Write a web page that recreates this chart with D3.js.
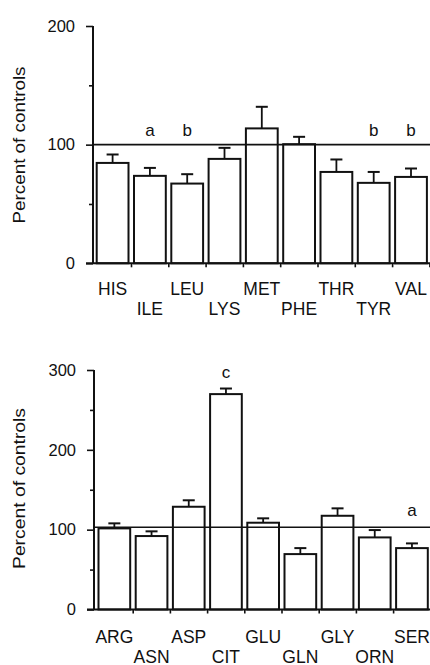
<!DOCTYPE html>
<html>
<head>
<meta charset="utf-8">
<script src="https://cdn.jsdelivr.net/npm/d3@7"></script>
<style>
  html, body { margin: 0; padding: 0; background: #fff; }
  svg { display: block; }
  text { font-family: "Liberation Sans", Arial, Helvetica, sans-serif; fill: #111; }
</style>
</head>
<body>
<svg id="chart" width="430" height="665"></svg>
<script>
// Essential amino acids (upper panel)
const essentialNames = ["HIS", "ILE", "LEU", "LYS", "MET", "PHE", "THR", "TYR", "VAL"];
const essentialMeans = [84.6, 73.7, 67.2, 88.0, 113.7, 100.4, 77.0, 67.8, 72.8];
const essentialSem   = [7.1, 6.7, 7.9, 9.3, 18.2, 6.2, 10.5, 9.2, 7.1];
const essentialSig   = ["", "a", "b", "", "", "", "", "b", "b"];
const essentialTicks = [0, 100, 200];
const essentialMinor = [50, 150];
const essentialRef   = 100;

// Non-essential amino acids (lower panel)
const otherNames = ["ARG", "ASN", "ASP", "CIT", "GLU", "GLN", "GLY", "ORN", "SER"];
const otherMeans = [101.6, 92.0, 128.7, 269.8, 108.7, 69.4, 117.4, 90.3, 76.9];
const otherSem   = [6.3, 5.9, 8.1, 7.0, 5.5, 7.5, 9.3, 9.2, 5.9];
const otherSig   = ["", "", "", "c", "", "", "", "", "a"];
const otherTicks = [0, 100, 200, 300];
const otherMinor = [50, 150, 250];
const otherRef   = 103;

const yTitle = "Percent of controls";
const ink = "#111";

const svg = d3.select("#chart");

function panel(cfg) {
  const g = svg.append("g");
  const yMax = d3.max(cfg.ticks);
  const y = d3.scaleLinear().domain([0, yMax]).range([cfg.y0, cfg.yTop]);
  const x = d3.scaleBand().domain(cfg.names).range([cfg.xStart, cfg.xEnd]).paddingInner(0).paddingOuter(0);
  const xi = d3.scaleLinear().domain([0, cfg.names.length]).range([cfg.xStart, cfg.xEnd]);

  const rows = cfg.names.map((n, i) => ({
    name: n, mean: cfg.means[i], sem: cfg.sem[i], sig: cfg.sig[i], i
  }));

  // bars
  const inset = 3, barW = x.bandwidth() - 5.5;
  g.selectAll("rect.bar").data(rows).join("rect")
    .attr("class", "bar")
    .attr("x", d => x(d.name) + inset)
    .attr("width", barW)
    .attr("y", d => y(d.mean))
    .attr("height", d => y(0) - y(d.mean))
    .attr("fill", "#fff")
    .attr("stroke", ink)
    .attr("stroke-width", 2);

  // error bars (upper only)
  const capW = 12;
  const eb = g.selectAll("g.err").data(rows).join("g").attr("class", "err");
  eb.append("line")
    .attr("x1", d => x(d.name) + inset + barW / 2)
    .attr("x2", d => x(d.name) + inset + barW / 2)
    .attr("y1", d => y(d.mean))
    .attr("y2", d => y(d.mean + d.sem))
    .attr("stroke", ink).attr("stroke-width", 1.8);
  eb.append("line")
    .attr("x1", d => x(d.name) + inset + barW / 2 - capW / 2)
    .attr("x2", d => x(d.name) + inset + barW / 2 + capW / 2)
    .attr("y1", d => y(d.mean + d.sem))
    .attr("y2", d => y(d.mean + d.sem))
    .attr("stroke", ink).attr("stroke-width", 2);

  // reference line
  g.append("line")
    .attr("x1", cfg.axisX).attr("x2", 430)
    .attr("y1", y(cfg.ref)).attr("y2", y(cfg.ref))
    .attr("stroke", ink).attr("stroke-width", 1.6);

  // y axis
  const yAxis = d3.axisLeft(y)
    .tickValues(cfg.ticks.concat(cfg.minor).sort((a, b) => a - b))
    .tickSize(7).tickPadding(11)
    .tickFormat(v => cfg.ticks.includes(v) ? d3.format("d")(v) : "");
  const ya = g.append("g").attr("transform", `translate(${cfg.axisX},0)`).call(yAxis);
  ya.select(".domain").attr("stroke", ink).attr("stroke-width", 2)
    .attr("d", `M0,${y(yMax)}V${y(0)}`);
  ya.selectAll(".tick line").attr("stroke", ink).attr("stroke-width", 1.6)
    .attr("x2", v => cfg.ticks.includes(v) ? -7 : -4);
  ya.selectAll(".tick text")
    .attr("font-size", 16.5)
    .attr("fill", ink)
    .style("font-family", '"Liberation Sans", Arial, sans-serif');

  // x axis with ticks on category boundaries
  const xAxis = d3.axisBottom(xi).tickValues(d3.range(1, cfg.names.length + 1))
    .tickSize(4).tickFormat("");
  const xa = g.append("g").attr("transform", `translate(0,${y(0)})`).call(xAxis);
  xa.select(".domain").attr("stroke", ink).attr("stroke-width", 2)
    .attr("d", `M${cfg.axisX - 7},0H430`);
  xa.selectAll(".tick line").attr("stroke", ink).attr("stroke-width", 1.6);

  // category labels, staggered in two rows
  g.selectAll("text.cat").data(rows).join("text")
    .attr("class", "cat")
    .attr("x", d => x(d.name) + inset + barW / 2)
    .attr("y", d => d.i % 2 === 0 ? cfg.row1 : cfg.row2)
    .attr("text-anchor", "middle")
    .attr("font-size", 17.5)
    .text(d => d.name);

  // significance letters, placed at a panel-specific height (in data units)
  g.selectAll("text.sig").data(rows.filter(d => d.sig)).join("text")
    .attr("class", "sig")
    .attr("x", d => x(d.name) + inset + barW / 2)
    .attr("y", d => y(cfg.sigLevel(d.name)))
    .attr("text-anchor", "middle")
    .attr("font-size", 17)
    .text(d => d.sig);

  // axis title
  g.append("text")
    .attr("transform", `translate(${cfg.titleX},${cfg.titleY}) rotate(-90)`)
    .attr("text-anchor", "middle")
    .attr("font-size", 16)
    .attr("textLength", cfg.titleLen)
    .attr("lengthAdjust", "spacingAndGlyphs")
    .text(yTitle);
}

panel({
  names: essentialNames, means: essentialMeans, sem: essentialSem, sig: essentialSig,
  ticks: essentialTicks, minor: essentialMinor, ref: essentialRef,
  y0: 263.3, yTop: 26, axisX: 93, xStart: 93.7, xEnd: 429.4,
  row1: 295, row2: 314.5, sigLevel: () => 107,
  titleX: 24.5, titleY: 145, titleLen: 157
});

panel({
  names: otherNames, means: otherMeans, sem: otherSem, sig: otherSig,
  ticks: otherTicks, minor: otherMinor, ref: otherRef,
  y0: 609.5, yTop: 370, axisX: 94, xStart: 95.5, xEnd: 430.3,
  row1: 643, row2: 662.5, sigLevel: n => (n === "CIT" ? 290 : 117),
  titleX: 25, titleY: 488.5, titleLen: 161
});
</script>
</body>
</html>
